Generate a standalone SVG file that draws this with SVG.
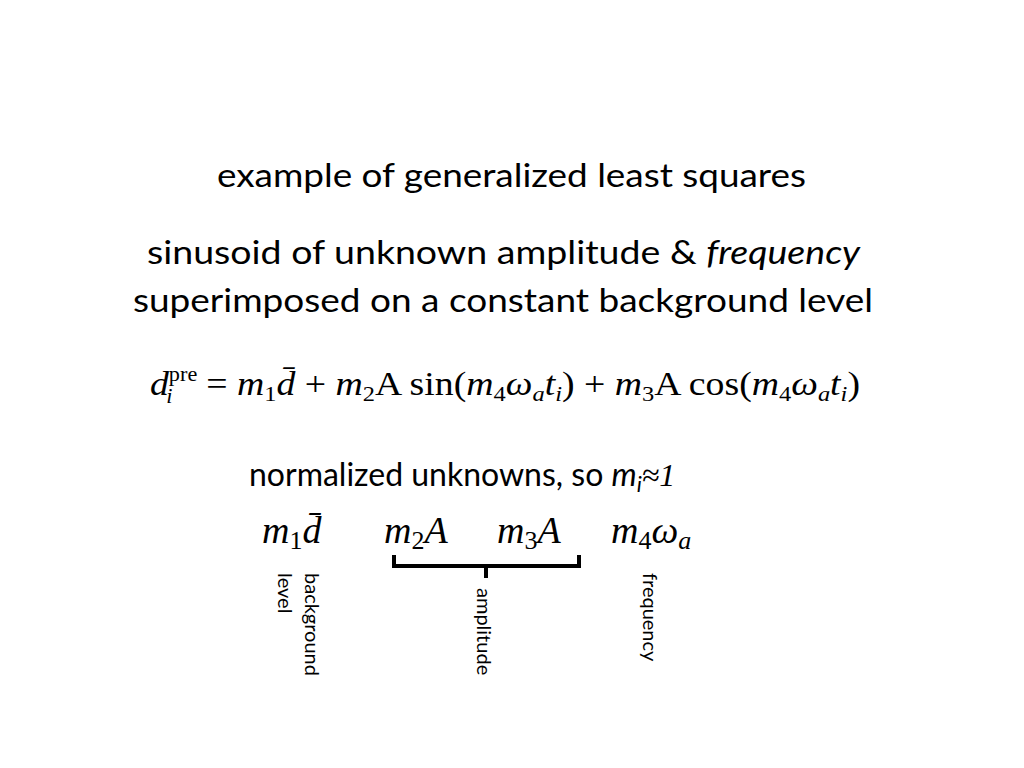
<svg xmlns="http://www.w3.org/2000/svg" width="1024" height="768" viewBox="0 0 1024 768">
<style>
.t{font-family:Lato,"Open Sans",sans-serif;font-size:32px;fill:#000}
.m{font-family:"Liberation Serif",serif;fill:#000}
.s{font-family:Lato,"Open Sans",sans-serif;font-size:20px;fill:#000}
</style>
<rect width="1024" height="768" fill="#fff"/>
<text class="t" x="217" y="187" textLength="589" lengthAdjust="spacingAndGlyphs">example of generalized least squares</text>
<text class="t" x="147" y="264" textLength="713" lengthAdjust="spacingAndGlyphs">sinusoid of unknown amplitude &amp; <tspan font-style="italic">frequency</tspan></text>
<text class="t" x="133" y="312" textLength="740" lengthAdjust="spacingAndGlyphs">superimposed on a constant background level</text>
<text class="m" x="150" y="395" font-size="34" textLength="710" lengthAdjust="spacingAndGlyphs"><tspan font-style="italic">d</tspan><tspan font-size="20" dy="-14">pre</tspan><tspan font-size="20" font-style="italic" dx="-28" dy="22">i</tspan><tspan dx="22" dy="-8"> = </tspan><tspan font-style="italic">m</tspan><tspan font-size="22" dy="6">1</tspan><tspan font-style="italic" dy="-6">d̄</tspan> + <tspan font-style="italic">m</tspan><tspan font-size="22" dy="6">2</tspan><tspan dy="-6">A sin(</tspan><tspan font-style="italic">m</tspan><tspan font-size="22" dy="6">4</tspan><tspan font-style="italic" dy="-6">ω</tspan><tspan font-size="22" font-style="italic" dy="6">a</tspan><tspan font-style="italic" dy="-6">t</tspan><tspan font-size="22" font-style="italic" dy="6">i</tspan><tspan dy="-6">) +  </tspan><tspan font-style="italic">m</tspan><tspan font-size="22" dy="6">3</tspan><tspan dy="-6">A cos(</tspan><tspan font-style="italic">m</tspan><tspan font-size="22" dy="6">4</tspan><tspan font-style="italic" dy="-6">ω</tspan><tspan font-size="22" font-style="italic" dy="6">a</tspan><tspan font-style="italic" dy="-6">t</tspan><tspan font-size="22" font-style="italic" dy="6">i</tspan><tspan dy="-6">)</tspan></text>
<text class="t" x="249" y="486">normalized unknowns, so <tspan font-style="italic">m</tspan><tspan font-style="italic" font-size="22" dy="6">i</tspan><tspan dy="-6" class="m" font-style="italic">≈1</tspan></text>
<g class="m" font-size="38" font-style="italic">
<text x="262" y="543">m<tspan font-size="26" font-style="normal" dy="6">1</tspan><tspan dy="-6">d̄</tspan></text>
<text x="384" y="543">m<tspan font-size="26" font-style="normal" dy="6">2</tspan><tspan dy="-6">A</tspan></text>
<text x="497" y="543">m<tspan font-size="26" font-style="normal" dy="6">3</tspan><tspan dy="-6">A</tspan></text>
<text x="611" y="543">m<tspan font-size="26" font-style="normal" dy="6">4</tspan><tspan dy="-6">ω</tspan><tspan font-size="26" dy="6">a</tspan></text>
</g>
<path d="M394,555 V566 H579 V555 M486,566 V578" fill="none" stroke="#000" stroke-width="4"/>
<g class="s">
<text transform="translate(305,573) rotate(90)">background</text>
<text transform="translate(278,573) rotate(90)">level</text>
<text transform="translate(477,588) rotate(90)">amplitude</text>
<text transform="translate(643,573) rotate(90)">frequency</text>
</g>
</svg>
